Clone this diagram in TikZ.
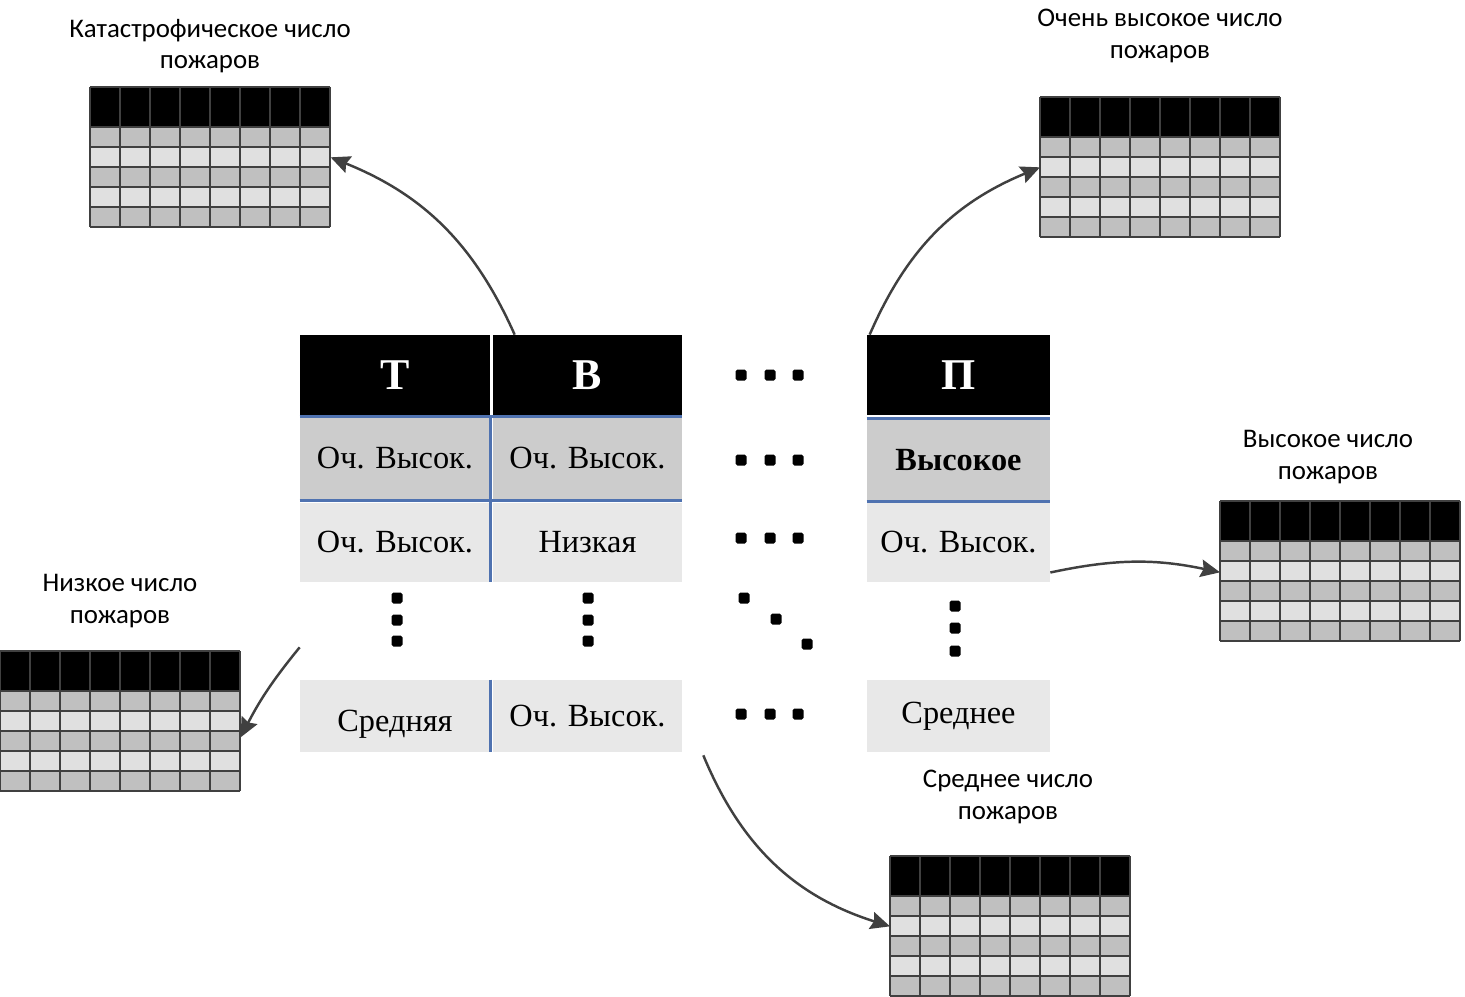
\documentclass[tikz,border=0pt]{standalone}
\usepackage{fontspec}
\setmainfont{Liberation Serif}
\newfontfamily\labelfont{Carlito}
\usepackage{tikz}
\usetikzlibrary{arrows.meta}

\definecolor{gridgray}{RGB}{64,64,64}
\definecolor{rowdark}{RGB}{192,192,192}
\definecolor{rowlight}{RGB}{224,224,224}
\definecolor{cellgray}{RGB}{204,204,204}
\definecolor{celllight}{RGB}{232,232,232}
\definecolor{tblue}{RGB}{79,114,176}
\definecolor{arrowgray}{RGB}{64,64,64}

% mini table: name, x, y of top-left corner (px)
\newcommand{\firetable}[3]{%
  \begin{scope}[shift={(#2,#3)}]
    \fill[black] (0,0) rectangle (240,40);
    \foreach \r in {40,80,120} {\fill[rowdark] (0,\r) rectangle (240,\r+20);}
    \foreach \r in {60,100} {\fill[rowlight] (0,\r) rectangle (240,\r+20);}
    \foreach \c in {0,30,...,240} {\draw[gridgray, line width=0.8pt] (\c,0) -- (\c,140);}
    \foreach \r in {0,40,60,80,100,120,140} {\draw[gridgray, line width=0.8pt] (0,\r) -- (240,\r);}
    \node[inner sep=0, minimum width=4.8cm, minimum height=2.8cm, anchor=north west] (#1) at (0,0) {};
  \end{scope}}

% small square dot of the table
\newcommand{\sqdot}[2]{\fill[black, rounded corners=1pt] (#1-5.5,#2-5.5) rectangle (#1+5.5,#2+5.5);}

\begin{document}
\begin{tikzpicture}[x=0.02cm, y=-0.02cm,
    lbl/.style={font=\labelfont\fontsize{15.3}{18}\selectfont, align=center},
    hdr/.style={fill=black, text=white, inner sep=0, minimum height=1.6cm, font=\fontsize{25}{28}\selectfont\bfseries},
    rowA/.style={fill=cellgray, inner sep=0, minimum height=1.66cm, font=\fontsize{18.4}{20}\selectfont},
    rowB/.style={fill=celllight, inner sep=0, minimum height=1.58cm, font=\fontsize{18.4}{20}\selectfont},
    rowD/.style={fill=celllight, inner sep=0, minimum height=1.44cm, font=\fontsize{18.4}{20}\selectfont},
    colT/.style={minimum width=3.8cm},
    colB/.style={minimum width=3.78cm},
    colP/.style={minimum width=3.66cm},
    rule/.style={tblue, line width=1.8pt},
    conn/.style={draw=arrowgray, line width=1.4pt, -{Stealth[length=11pt, width=10pt, inset=1.5pt]}}]

  \useasboundingbox (0,0) rectangle (1465,997);

  % ----- Central table -----
  \node[hdr, colT] (hT) at (395,375) {Т};
  \node[hdr, colB] (hB) at (587.5,375) {В};
  \node[hdr, colP] (hP) at (958.5,375) {П};

  \node[rowA, colT] (aT) at (395,458.5) {Оч. Высок.};
  \node[rowA, colB] (aB) at (587.5,458.5) {Оч. Высок.};
  \node[rowA, colP, font=\fontsize{18.4}{20}\selectfont\bfseries] (aP) at (958.5,460) {Высокое};

  \node[rowB, colT] (bT) at (395,542.5) {Оч. Высок.};
  \node[rowB, colB] (bB) at (587.5,542.5) {Низкая};
  \node[rowB, colP] (bP) at (958.5,542.5) {Оч. Высок.};

  \node[rowD, colT] (dT) at (395,716) {\raisebox{-9pt}[0pt][0pt]{Средняя}};
  \node[rowD, colB] (dB) at (587.5,716) {Оч. Высок.};
  \node[rowD, colP] (dP) at (958.5,716) {Среднее};

  % blue rules
  \draw[rule] (aT.north west) -- (aB.north east);
  \draw[rule] (aT.south west) -- (aB.south east);
  \draw[rule] (aP.north west) -- (aP.north east);
  \draw[rule] (aP.south west) -- (aP.south east);
  \draw[rule] (aT.north east) -- (bT.south east);
  \draw[rule] (dT.north east) -- (dT.south east);

  % dots
  \foreach \y in {375,460,538,714} {
    \foreach \x in {741,770,798} {\sqdot{\x}{\y}}
  }
  \foreach \y in {598,620,641} {\sqdot{397}{\y} \sqdot{588}{\y}}
  \foreach \y in {606,628,651} {\sqdot{955}{\y}}
  \sqdot{744}{598} \sqdot{776}{619} \sqdot{807}{644}

  % ----- Result tables -----
  \firetable{kat}{90}{87}
  \firetable{vys}{1040}{97}
  \firetable{vysok}{1220}{501}
  \firetable{niz}{0}{651}
  \firetable{sred}{890}{856}

  \node[lbl] (katlbl) at (210,46) {Катастрофическое число\\пожаров};
  \node[lbl] (vyslbl) at (1160,36) {Очень высокое число\\пожаров};
  \node[lbl] (vysoklbl) at (1328,457) {Высокое число\\пожаров};
  \node[lbl] (nizlbl) at (120,601) {Низкое число\\пожаров};
  \node[lbl] (sredlbl) at (1008,797) {Среднее число\\пожаров};

  % ----- Arrows -----
  \draw[conn] ([xshift=0.44cm]hB.north west) to[bend right=22] (kat.east);
  \draw[conn] ([xshift=0.06cm]hP.north west) to[bend left=22] (vys.west);
  \draw[conn] ([yshift=-0.6cm]bP.east) to[bend left=12] ([yshift=-0.02cm]vysok.west);
  \draw[conn] ([yshift=-1.3cm]bT.south west) to[bend right=6] ([yshift=-0.32cm]niz.east);
  \draw[conn] ([xshift=0.42cm, yshift=-0.06cm]dB.south east) to[bend right=25] (sred.west);

\end{tikzpicture}
\end{document}
